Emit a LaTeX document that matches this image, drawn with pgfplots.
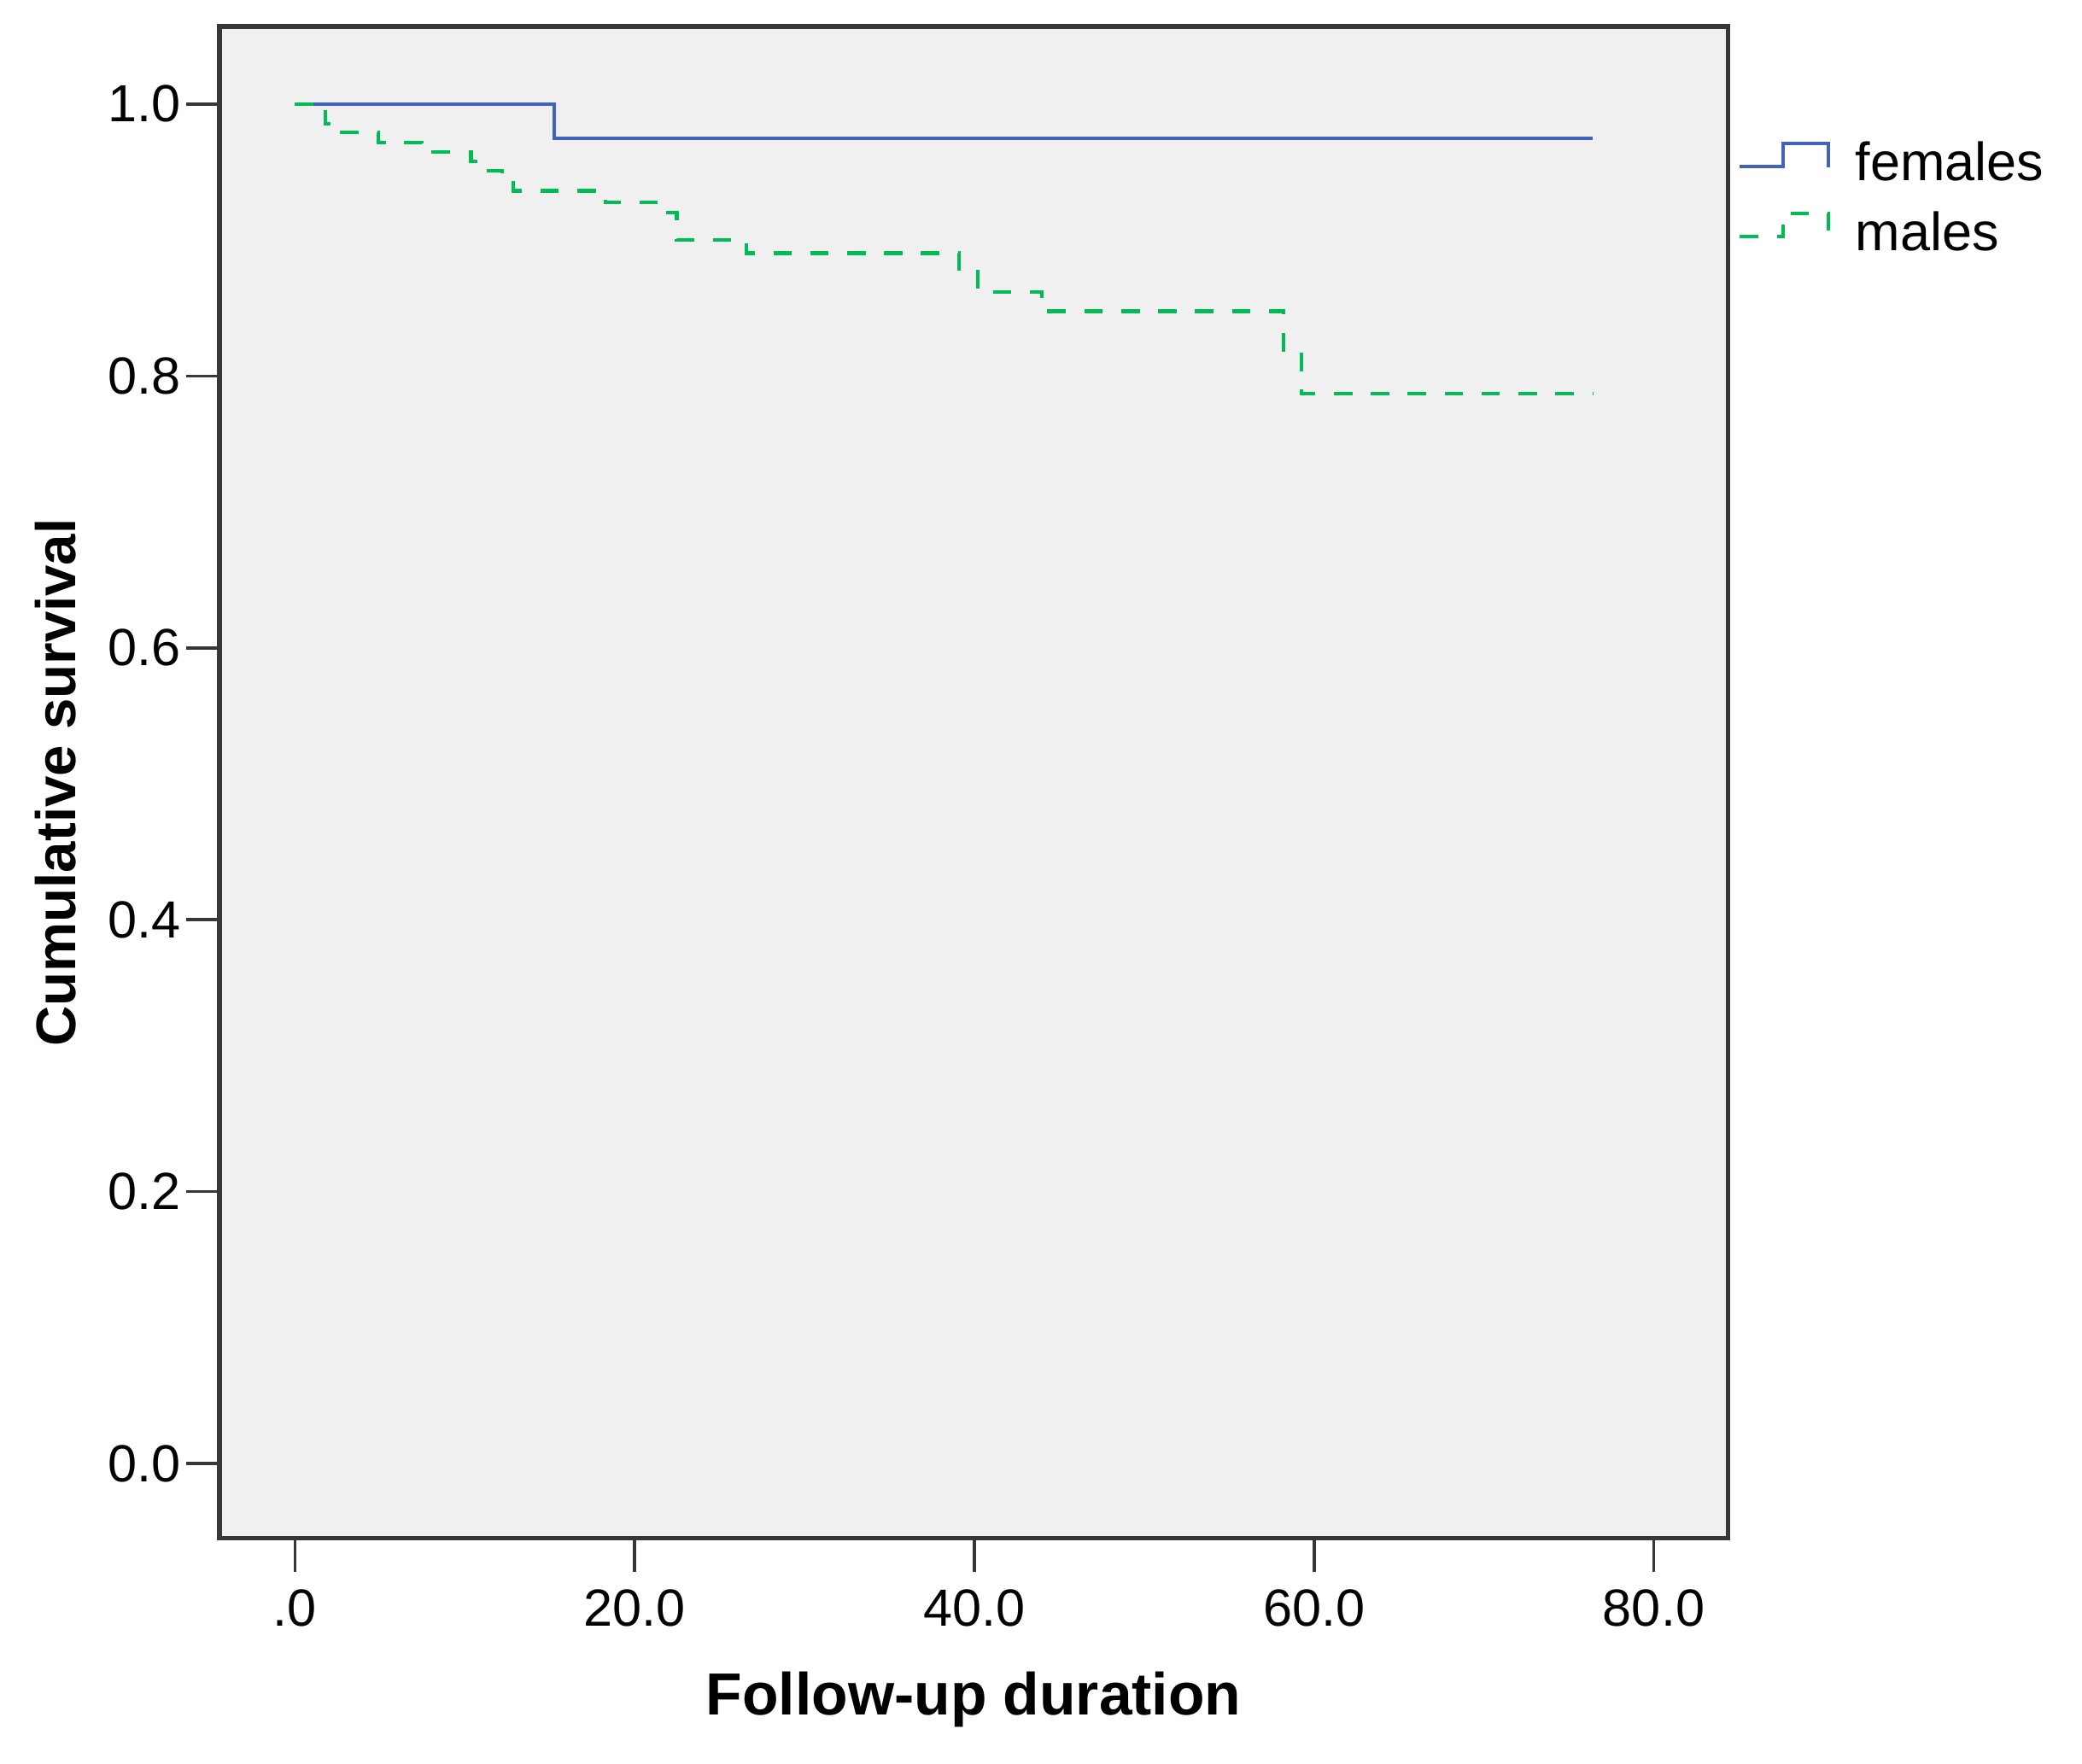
\documentclass[border=0pt]{standalone}
\usepackage{fontspec}
\setmainfont{Liberation Sans}
\usepackage{pgfplots}
\pgfplotsset{compat=1.18}
\definecolor{femcol}{RGB}{66,98,192}
\definecolor{malcol}{RGB}{0,188,84}
\definecolor{plotbg}{RGB}{240,240,240}
\definecolor{framecol}{RGB}{55,55,55}
\begin{document}
\begin{tikzpicture}
\begin{axis}[
  name=ax,
  scale only axis,
  width=294.3pt, height=295pt,
  xmin=-4.45, xmax=84.36,
  ymin=-0.0551, ymax=1.057,
  axis background/.style={fill=plotbg},
  axis line style={framecol, line width=0.9pt},
  tick style={framecol, line width=0.6pt},
  tick align=outside,
  major tick length=6.5pt,
  xtick={0,20,40,60,80},
  xticklabels={.0,20.0,40.0,60.0,80.0},
  ytick={0,0.2,0.4,0.6,0.8,1.0},
  yticklabels={0.0,0.2,0.4,0.6,0.8,1.0},
  xtick pos=bottom, ytick pos=left,
  ticklabel style={font=\fontsize{10.2}{12}\selectfont, black},
  yticklabel style={xshift=2.5pt},
  xlabel={Follow-up duration},
  ylabel={Cumulative survival},
  xlabel style={font=\fontsize{11.6}{13}\selectfont\bfseries, at={(axis description cs:0.5,-0.1068)}, anchor=center},
  ylabel style={font=\fontsize{10.9}{13}\selectfont\bfseries, at={(axis description cs:-0.1085,0.5)}, anchor=center},
  legend cell align=left,
  legend style={draw=none, fill=none, at={(axis description cs:1,0.924)}, anchor=north west, xshift=2pt,
    inner sep=0pt, outer sep=0pt, row sep=4pt,
    font=\fontsize{10.5}{12}\selectfont,
    nodes={inner sep=0pt, text height=7.6pt, text depth=2.1pt}},
  legend image code/.code={\draw[#1] (0pt,0pt) -- (8.5pt,0pt) -- (8.5pt,4.5pt) -- (17.3pt,4.5pt) -- (17.3pt,-0.2pt);
    \path (22.2pt,0pt);},
]
\addplot[const plot, femcol, line width=0.65pt] coordinates {
  (0,1.0) (15.26,0.9747) (76.38,0.9747)
};
\addlegendentry{females}
\addplot[const plot, malcol, line width=0.7pt, dash pattern=on 3.6pt off 3.6pt] coordinates {
  (0,1.0)
  (1.80,0.9853)
  (2.36,0.979)
  (4.89,0.9717)
  (7.46,0.9648)
  (10.36,0.958)
  (11.23,0.9508)
  (12.21,0.944)
  (12.86,0.9362)
  (18.27,0.9277)
  (21.98,0.920)
  (22.48,0.9001)
  (26.56,0.8904)
  (39.10,0.8765)
  (40.22,0.8618)
  (43.97,0.8477)
  (58.22,0.8175)
  (59.24,0.787)
  (76.38,0.787)
};
\addlegendentry{males}
\end{axis}
\path (ax.south west) ++(-42.8pt,-44pt) coordinate (bbsw);
\path (ax.north east) ++(69.1pt,5.2pt) coordinate (bbne);
\useasboundingbox (bbsw) rectangle (bbne);
\end{tikzpicture}
\end{document}
